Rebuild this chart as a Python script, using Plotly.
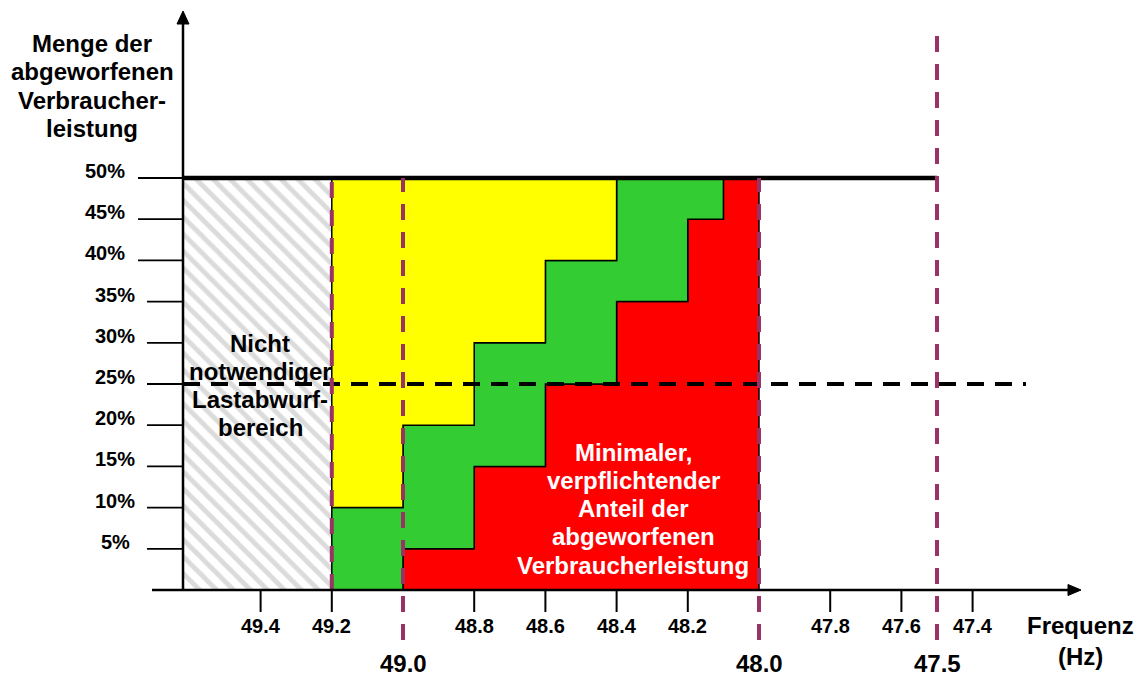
import plotly.graph_objects as go

# ---------------- data ----------------
band_edges = [49.2, 49.0, 48.8, 48.6, 48.4, 48.2, 48.1, 48.0]
red_top = [0, 5, 15, 25, 35, 45, 50]
green_top = [10, 20, 30, 40, 50, 50, 50]
max_share = 50
dashed_share = 25
hatched_limit = 49.2

x_ticks = [49.4, 49.2, 48.8, 48.6, 48.4, 48.2, 47.8, 47.6, 47.4]
x_tick_labels = ["49.4", "49.2", "48.8", "48.6", "48.4", "48.2", "47.8", "47.6", "47.4"]
marker_freqs = [49.2, 49.0, 48.0, 47.5]
marker_labels = ["", "49.0", "48.0", "47.5"]
y_ticks = [5, 10, 15, 20, 25, 30, 35, 40, 45, 50]
y_tick_labels = ["5%", "10%", "15%", "20%", "25%", "30%", "35%", "40%", "45%", "50%"]

title_lines = ["Menge der", "abgeworfenen", "Verbraucher-", "leistung"]
hatch_lines = ["Nicht", "notwendiger", "Lastabwurf-", "bereich"]
red_lines = ["Minimaler,", "verpflichtender", "Anteil der", "abgeworfenen", "Verbraucherleistung"]
x_title_lines = ["Frequenz", "(Hz)"]

# ---------------- layout geometry (viewport pixels) ----------------
W, H = 1139, 679
PX_PER_HZ = 356.0
PX_490 = 403.0
PX_PER_PCT = 8.24
PX_Y0 = 590.0


def px_x(p):
    return 49.0 - (p - PX_490) / PX_PER_HZ


def px_y(p):
    return (PX_Y0 - p) / PX_PER_PCT


X_LEFT, X_RIGHT = px_x(0), px_x(W)
Y_TOP, Y_BOT = px_y(0), px_y(H)
YAX = px_x(183)

FONT = "Liberation Sans, Arial, sans-serif"
PURPLE = "#993366"
BIG = 24
SMALL = 20

fig = go.Figure()

# hatched "not needed" region
fig.add_trace(go.Bar(
    x=[(YAX + hatched_limit) / 2], y=[max_share], base=[0], width=[YAX - hatched_limit],
    marker=dict(color="white", line=dict(width=0),
                pattern=dict(shape="\\", fgcolor="#B8B8B8", bgcolor="white", size=12, solidity=0.4)),
    hoverinfo="skip", showlegend=False))


def steps(tops):
    xs, ys = [], []
    for i, t in enumerate(tops):
        xs += [band_edges[i], band_edges[i + 1]]
        ys += [t, t]
    return xs, ys


def band_polygon(lower, upper, color):
    lx, ly = steps(lower)
    ux, uy = steps(upper)
    xs = lx + ux[::-1] + [lx[0]]
    ys = ly + uy[::-1] + [ly[0]]
    fig.add_trace(go.Scatter(x=xs, y=ys, mode="lines", fill="toself", fillcolor=color,
                             line=dict(color="black", width=1.5), hoverinfo="skip",
                             showlegend=False))


zeros = [0] * len(red_top)
band_polygon(zeros, red_top, "#FF0000")
band_polygon(red_top, green_top, "#33CC33")
band_polygon(green_top, [max_share] * len(green_top), "#FFFF00")

shapes = []
# 50% solid line
shapes.append(dict(type="line", x0=YAX, x1=47.5, y0=max_share, y1=max_share,
                   line=dict(color="black", width=4.5)))
# 25% dashed line
shapes.append(dict(type="line", x0=YAX, x1=px_x(1026), y0=dashed_share, y1=dashed_share,
                   line=dict(color="black", width=4, dash="17px,11px")))
# purple frequency markers
for f in marker_freqs:
    y0 = 0 if f == hatched_limit else px_y(640)
    y1 = px_y(32) if f == 47.5 else max_share
    shapes.append(dict(type="line", x0=f, x1=f, y0=y0, y1=y1,
                       line=dict(color=PURPLE, width=4, dash="16px,12px")))
# axes
shapes.append(dict(type="line", x0=px_x(152), x1=px_x(1070), y0=0, y1=0,
                   line=dict(color="black", width=2.5)))
shapes.append(dict(type="line", x0=YAX, x1=YAX, y0=0, y1=px_y(22),
                   line=dict(color="black", width=2.5)))
# arrow heads
tipx = px_x(1081)
shapes.append(dict(type="path", path=f"M {tipx} 0 L {px_x(1068)} {5.5 / PX_PER_PCT} L {px_x(1068)} {-5.5 / PX_PER_PCT} Z",
                   fillcolor="black", line=dict(color="black", width=1)))
tipy = px_y(11)
shapes.append(dict(type="path", path=f"M {YAX} {tipy} L {px_x(177)} {px_y(24)} L {px_x(189)} {px_y(24)} Z",
                   fillcolor="black", line=dict(color="black", width=1)))
# x ticks
for t in x_ticks:
    shapes.append(dict(type="line", x0=t, x1=t, y0=0, y1=px_y(612),
                       line=dict(color="black", width=2)))
# y ticks
for v in y_ticks:
    start = 138 if v >= 40 else 147
    shapes.append(dict(type="line", x0=px_x(start), x1=YAX, y0=v, y1=v,
                       line=dict(color="black", width=1.8)))

ann = []


def text(x, y, s, size, color="black", xanchor="center"):
    ann.append(dict(x=x, y=y, xref="x", yref="y", text=f"<b>{s}</b>", showarrow=False,
                    xanchor=xanchor, yanchor="middle",
                    font=dict(family=FONT, size=size, color=color)))


for v, lab in zip(y_ticks, y_tick_labels):
    right = 127 if v >= 40 else (132 if v == 5 else 137)
    text(px_x(right), v + 7 / PX_PER_PCT, lab, SMALL, xanchor="right")

for t, lab in zip(x_ticks, x_tick_labels):
    text(t, px_y(626), lab, SMALL)

for f, lab in zip(marker_freqs, marker_labels):
    if lab:
        text(f, px_y(663), lab, BIG)

for i, s in enumerate(title_lines):
    text(px_x(92), px_y(43 + 28.5 * i), s, BIG)
for i, s in enumerate(hatch_lines):
    text(px_x(260), px_y(343 + 28 * i), s, BIG)
for i, s in enumerate(red_lines):
    text(px_x(633), px_y(452 + 28.3 * i), s, BIG, color="white")
text(px_x(1080), px_y(625), x_title_lines[0], BIG)
text(px_x(1080), px_y(656), x_title_lines[1], BIG)

fig.update_layout(
    width=W, height=H, margin=dict(l=0, r=0, t=0, b=0),
    paper_bgcolor="white", plot_bgcolor="white", showlegend=False,
    xaxis=dict(range=[X_LEFT, X_RIGHT], visible=False, fixedrange=True),
    yaxis=dict(range=[Y_BOT, Y_TOP], visible=False, fixedrange=True),
    shapes=shapes, annotations=ann, barmode="overlay",
)

fig.write_html("out.html", config={"displayModeBar": False},
               post_script="document.body.style.margin='0';document.body.style.overflow='hidden';")
